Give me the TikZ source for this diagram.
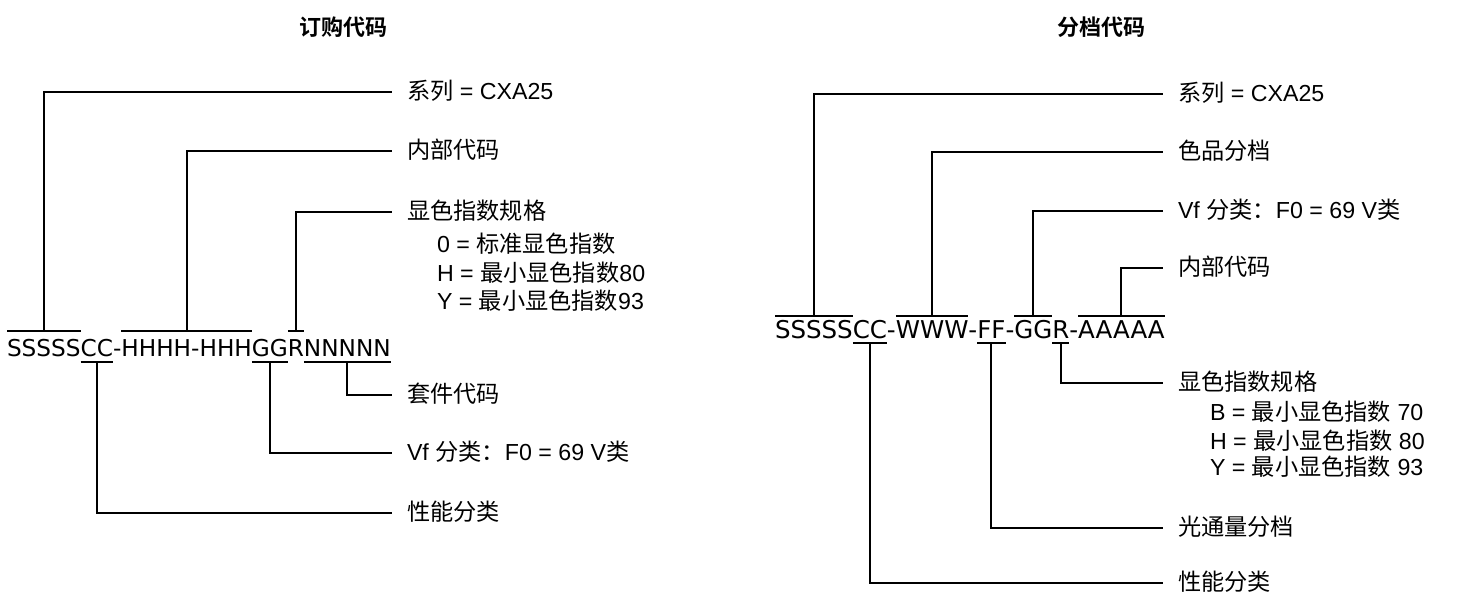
\documentclass[tikz,border=0pt]{standalone}
\usepackage{fontspec}
\setmainfont{DejaVu Sans}
\newfontfamily\cjk[BoldFont={Noto Sans CJK SC Bold}]{Noto Sans CJK SC}
\newfontfamily\latfont{Liberation Sans}
\newcommand{\latn}[1]{{\latfont #1}}
\usetikzlibrary{positioning}

\begin{document}
\begin{tikzpicture}[x=0.5pt, y=-0.5pt,
    part/.style={inner sep=0pt, outer sep=0pt, text height=12.5pt, text depth=3pt, font=\fontsize{11.6}{12}\selectfont},
    partr/.style={part, text height=11pt, text depth=2.5pt, font=\fontsize{12.25}{13}\selectfont},
    lbl/.style={anchor=west, inner sep=0pt, outer xsep=7.5pt, text height=0.88em, text depth=0.12em, font=\cjk\fontsize{11.6}{14}\selectfont},
    sub/.style={lbl, outer xsep=0pt},
    ttl/.style={font=\cjk\bfseries\fontsize{11}{13}\selectfont},
    bar/.style={line width=1pt},
    lead/.style={line width=1pt}]
    \useasboundingbox (0,0) rectangle (1462,601);

    % titles
    \node[ttl] (titleL) at (343,27) {订购代码};
    \node[ttl] (titleR) at (1101,27) {分档代码};

    % ordering code
    \node[part, anchor=base west] (ls) at (7,356) {SSSSS};
    \node[part, right=0pt of ls] (lc) {CC};
    \node[part, right=0pt of lc] (ld1) {-};
    \node[part, right=0pt of ld1] (lh) {HHHH-HHH};
    \node[part, right=0pt of lh] (lg) {GG};
    \node[part, right=0pt of lg] (lr) {R};
    \node[part, right=0pt of lr] (ln) {NNNNN};

    \node[lbl] (sysL) at (392,92) {系列\latn{ = CXA25}};
    \node[lbl] (intL) at (392,151) {内部代码};
    \node[lbl] (criL) at (392,212) {显色指数规格};
    \node[sub] (criL0) at (437,245) {\latn{0 = }标准显色指数};
    \node[sub] (criL1) at (437,274) {\latn{H = }最小显色指数\latn{80}};
    \node[sub] (criL2) at (437,302) {\latn{Y = }最小显色指数\latn{93}};
    \node[lbl] (kitL) at (392,395) {套件代码};
    \node[lbl] (vfL) at (392,453) {\latn{Vf }分类：\latn{F0 = 69 V}类};
    \node[lbl] (perfL) at (392,513) {性能分类};

    % binning code
    \node[partr, anchor=base west] (rs) at (775,338) {SSSSS};
    \node[partr, right=0pt of rs] (rc) {CC};
    \node[partr, right=0pt of rc] (rd1) {-};
    \node[partr, right=0pt of rd1] (rw) {WWW};
    \node[partr, right=0pt of rw] (rd2) {-};
    \node[partr, right=0pt of rd2] (rf) {FF};
    \node[partr, right=0pt of rf] (rd3) {-};
    \node[partr, right=0pt of rd3] (rg) {GG};
    \node[partr, right=0pt of rg] (rr) {R};
    \node[partr, right=0pt of rr] (rd4) {-};
    \node[partr, right=0pt of rd4] (ra) {AAAAA};

    \node[lbl] (sysR) at (1163,94) {系列\latn{ = CXA25}};
    \node[lbl] (chrR) at (1163,152) {色品分档};
    \node[lbl] (vfR) at (1163,211) {\latn{Vf }分类：\latn{F0 = 69 V}类};
    \node[lbl] (intR) at (1163,268) {内部代码};
    \node[lbl] (criR) at (1163,383) {显色指数规格};
    \node[sub] (criR0) at (1210,413) {\latn{B = }最小显色指数\latn{ 70}};
    \node[sub] (criR1) at (1210,442) {\latn{H = }最小显色指数\latn{ 80}};
    \node[sub] (criR2) at (1210,468) {\latn{Y = }最小显色指数\latn{ 93}};
    \node[lbl] (fluxR) at (1163,528) {光通量分档};
    \node[lbl] (perfR) at (1163,583) {性能分类};

    % over- and underlines
    \foreach \p in {ls,lh,lr,rs,rw,rg,ra}
        \draw[bar] (\p.north west) -- (\p.north east);
    \foreach \p in {lc,lg,ln,rc,rf,rr}
        \draw[bar] (\p.south west) -- (\p.south east);

    % leaders
    \draw[lead] (ls) |- (sysL);
    \draw[lead] (lh) |- (intL);
    \draw[lead] (lr) |- (criL);
    \draw[lead] (ln) |- (kitL);
    \draw[lead] (lg) |- (vfL);
    \draw[lead] (lc) |- (perfL);

    \draw[lead] (rs) |- (sysR);
    \draw[lead] (rw) |- (chrR);
    \draw[lead] (rg) |- (vfR);
    \draw[lead] (ra) |- (intR);
    \draw[lead] (rr) |- (criR);
    \draw[lead] (rf) |- (fluxR);
    \draw[lead] (rc) |- (perfR);
\end{tikzpicture}
\end{document}
